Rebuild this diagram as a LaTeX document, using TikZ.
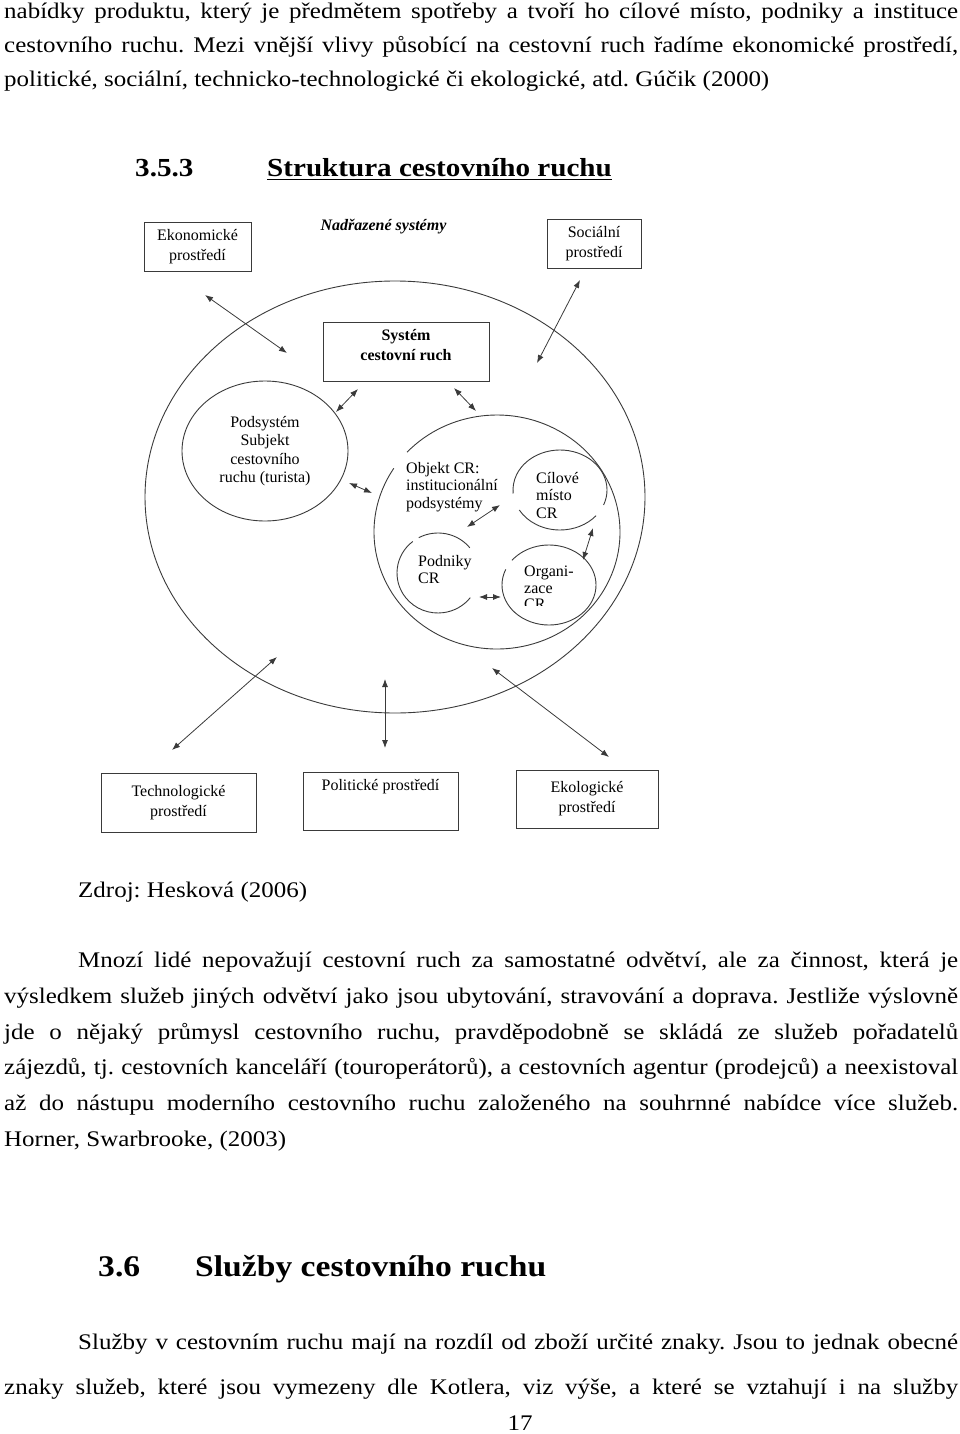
\documentclass[tikz,border=0pt]{standalone}
\usepackage{fontspec}
\setmainfont{Liberation Serif}[FakeStretch=1.12]
\newfontfamily\diafont{Liberation Serif}
\usetikzlibrary{arrows.meta,positioning,shapes.geometric}
\definecolor{ink}{HTML}{3A3A3A}
\frenchspacing
\newcommand{\bodysize}{\fontsize{22.3}{26}\selectfont}
\newcommand{\jline}[2]{\makebox[#1][s]{#2}}

\begin{document}
\begin{tikzpicture}[x=1pt,y=-1pt,
  txt/.style={anchor=base west,inner sep=0pt,font=\bodysize},
  envbox/.style={draw=ink,line width=0.9pt,inner sep=2pt,align=center,
    font=\diafont\fontsize{16}{20}\selectfont},
  sublabel/.style={align=left,inner sep=0pt,anchor=north west,
    font=\diafont\fontsize{16}{17.5}\selectfont},
  ring/.style={draw=ink,line width=0.9pt},
  link/.style={{Latex[length=8pt,width=6pt]}-{Latex[length=8pt,width=6pt]},
    draw=ink,line width=0.8pt}]
  \useasboundingbox (0,0) rectangle (960,1434);

  % text above the figure
  \node[txt] (top1) at (4,19) {\jline{954pt}{nabídky produktu, který je předmětem spotřeby a tvoří ho cílové místo, podniky a instituce}};
  \node[txt] (top2) at (4,53) {\jline{954pt}{cestovního ruchu. Mezi vnější vlivy působící na cestovní ruch řadíme ekonomické prostředí,}};
  \node[txt] (top3) at (4,87) {politické, sociální, technicko-technologické či ekologické, atd. Gúčik (2000)};
  \node[txt,font=\fontsize{26}{30}\selectfont\bfseries] (secnum) at (135,177) {3.5.3};
  \node[txt,font=\fontsize{26}{30}\selectfont\bfseries] (sectitle) at (267,177) {\underline{Struktura cestovního ruchu}};

  % boxes of the outer systems
  \node[envbox,minimum width=107pt,minimum height=49pt] (ekon) at (197.5,246.5) {Ekonomické\\prostředí};
  \node[font=\diafont\fontsize{16}{18}\selectfont\bfseries\itshape] (nadr) at (383.5,227) {Nadřazené systémy};
  \node[envbox,minimum width=94pt,minimum height=49pt] (soc) at (594,243.5) {Sociální\\prostředí};
  \node[envbox,minimum width=166pt,minimum height=59pt] (sys) at (406,351.5) {};
  \node[below=8pt of sys.north,inner sep=0pt,align=center,
    font=\diafont\fontsize{16}{20}\selectfont\bfseries] (systxt) {Systém\\cestovní ruch};
  \node[envbox,minimum width=155pt,minimum height=59pt] (tech) at (178.5,802.5) {Technologické\\prostředí};
  \node[envbox,minimum width=155pt,minimum height=58pt] (polit) at (380.5,801) {};
  \node[below=8pt of polit.north,inner sep=0pt,font=\diafont\fontsize{16}{20}\selectfont] (polittxt) {Politické prostředí};
  \node[envbox,minimum width=142pt,minimum height=58pt] (ekol) at (587,799) {Ekologické\\prostředí};

  % the tourism system and its parts
  \node[ring,ellipse,minimum width=500pt,minimum height=432pt,inner sep=0pt] (cr) at (395,497) {};
  \node[ring,ellipse,minimum width=166pt,minimum height=140pt,inner sep=0pt,align=center,
    font=\diafont\fontsize{16}{18.3}\selectfont] (podsys) at (265,451) {Podsystém\\Subjekt\\cestovního\\ruchu (turista)};

  \coordinate (objekt) at (497,532);
  \coordinate (cil) at (560,490);
  \coordinate (podn) at (438,573);
  \coordinate (org) at (549,585);
  \draw[ring] ([shift={(-147:123 and 117)}]objekt) arc[start angle=-147,end angle=-497,x radius=123,y radius=117];
  \draw[ring] ([shift={(-210:47 and 40)}]cil) arc[start angle=-210,end angle=-320,x radius=47,y radius=40];
  \draw[ring] ([shift={(-338:47 and 40)}]cil) arc[start angle=-338,end angle=-545,x radius=47,y radius=40];
  \draw[ring] ([shift={(-39:41 and 40)}]podn) arc[start angle=-39,end angle=-118,x radius=41,y radius=40];
  \draw[ring] ([shift={(-128:41 and 40)}]podn) arc[start angle=-128,end angle=-322,x radius=41,y radius=40];
  \draw[ring] ([shift={(-157:47 and 40)}]org) arc[start angle=-157,end angle=-502,x radius=47,y radius=40];

  \node[sublabel] (objtxt) at (406,462) {Objekt CR:\\institucionální\\podsystémy};
  \node[sublabel] (ciltxt) at (536,472) {Cílové\\místo\\CR};
  \node[sublabel] (podntxt) at (418,555) {Podniky\\CR};
  \begin{scope}
    \clip (500,550) rectangle (600,605);
    \node[sublabel,font=\diafont\fontsize{16}{16.5}\selectfont] (orgtxt) at (524,566) {Organi-\\zace\\CR};
  \end{scope}

  % arrows
  \coordinate (ekonA) at (205,295);  \coordinate (ekonB) at (287,353);
  \coordinate (socA) at (580,280);   \coordinate (socB) at (537,363);
  \coordinate (sysL) at (358,389);   \coordinate (podsysT) at (336,412);
  \coordinate (sysR) at (454,388);   \coordinate (objT) at (476,411);
  \coordinate (podsysR) at (349,483); \coordinate (objL) at (372,493);
  \coordinate (objtxtB) at (467,527); \coordinate (cilL) at (500,505);
  \coordinate (cilB) at (593,528);   \coordinate (orgT) at (583,560);
  \coordinate (podnR) at (479,597);  \coordinate (orgL) at (501,597);
  \coordinate (techA) at (277,657);  \coordinate (techB) at (172,750);
  \coordinate (politA) at (385,679); \coordinate (politB) at (385,748);
  \coordinate (ekolA) at (492,668);  \coordinate (ekolB) at (609,757);
  \draw[link] (ekonA) -- (ekonB);
  \draw[link] (socA) -- (socB);
  \draw[link] (sysL) -- (podsysT);
  \draw[link] (sysR) -- (objT);
  \draw[link] (podsysR) -- (objL);
  \draw[link] (objtxtB) -- (cilL);
  \draw[link] (cilB) -- (orgT);
  \draw[link] (podnR) -- (orgL);
  \draw[link] (techA) -- (techB);
  \draw[link] (politA) -- (politB);
  \draw[link] (ekolA) -- (ekolB);

  % text below the figure
  \node[txt] (zdroj) at (78,897) {Zdroj: Hesková (2006)};
  \node[txt] (par1) at (78,967) {\jline{880pt}{Mnozí lidé nepovažují cestovní ruch za samostatné odvětví, ale za činnost, která je}};
  \node[txt] (par2) at (4,1003) {\jline{954pt}{výsledkem služeb jiných odvětví jako jsou ubytování, stravování a doprava. Jestliže výslovně}};
  \node[txt] (par3) at (4,1039) {\jline{954pt}{jde o nějaký průmysl cestovního ruchu, pravděpodobně se skládá ze služeb pořadatelů}};
  \node[txt] (par4) at (4,1074) {\jline{954pt}{zájezdů, tj. cestovních kanceláří (touroperátorů), a cestovních agentur (prodejců) a neexistoval}};
  \node[txt] (par5) at (4,1110) {\jline{954pt}{až do nástupu moderního cestovního ruchu založeného na souhrnné nabídce více služeb.}};
  \node[txt] (par6) at (4,1146) {Horner, Swarbrooke, (2003)};
  \node[txt,font=\fontsize{30}{34}\selectfont\bfseries] (sec2num) at (98,1276) {3.6};
  \node[txt,font=\fontsize{30}{34}\selectfont\bfseries] (sec2title) at (195,1276) {Služby cestovního ruchu};
  \node[txt] (srv1) at (78,1349) {\jline{880pt}{Služby v cestovním ruchu mají na rozdíl od zboží určité znaky. Jsou to jednak obecné}};
  \node[txt] (srv2) at (4,1394) {\jline{954pt}{znaky služeb, které jsou vymezeny dle Kotlera, viz výše, a které se vztahují i na služby}};
  \node[txt,anchor=base] (pagenum) at (520,1430) {17};
\end{tikzpicture}
\end{document}
